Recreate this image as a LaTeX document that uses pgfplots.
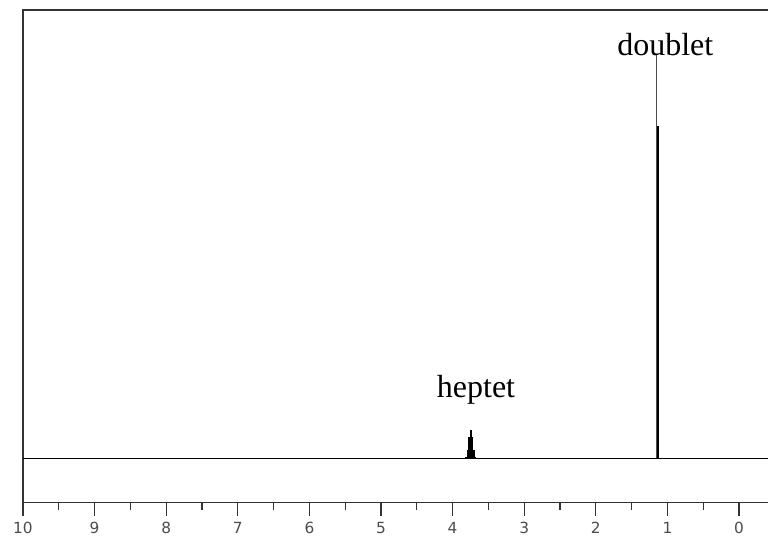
\documentclass[border=0pt]{standalone}
\usepackage{pgfplots}
\pgfplotsset{compat=1.18}
\usepackage{fontspec}
\setmainfont{Liberation Serif}
\newfontfamily\tickfont{DejaVu Sans}

\begin{document}
\begin{tikzpicture}
\useasboundingbox (0,0) rectangle (576pt,405.75pt);
\begin{axis}[
  at={(17.25pt,28.7pt)}, anchor=south west,
  width=558.75pt, height=369.5pt, scale only axis,
  x dir=reverse, xmin=-0.405, xmax=10,
  ymin=-11, ymax=111.16,
  axis line style={draw=none},
  clip=false,
  xtick={0,...,10}, minor xtick={0.5,1.5,...,9.5},
  xtick pos=bottom, ytick=\empty,
  tick align=outside, major tick length=9.75pt, minor tick length=5.25pt,
  every tick/.style={black!80, line width=0.8pt},
  xticklabel style={font=\tickfont\fontsize{11.5}{12}\selectfont, text=black!70, yshift=-1.5pt},
  /pgf/number format/assume math mode=true,
]
% frame: top, left, bottom (no right line)
\draw[black!80, line width=0.9pt] (axis cs:-0.405,111.16) -- (axis cs:10,111.16)
  -- (axis cs:10,-11) -- (axis cs:-0.405,-11);

% baseline
\addplot[black, line width=0.9pt] coordinates {(10,0) (-0.405,0)};

% heptet
\addplot[ycomb, black, line width=1.4pt] coordinates {
  (3.807,0.35) (3.787,2.1) (3.767,5.25) (3.747,7)
  (3.727,5.25) (3.707,2.1) (3.687,0.35)};

% doublet
\addplot[ycomb, black!70, line width=0.7pt] coordinates {(1.147,100)};
\addplot[ycomb, black, line width=1.4pt] coordinates {(1.135,82.4)};

\node[anchor=base, font=\fontsize{24}{28}\selectfont] at (axis cs:1.03,100) {doublet};
\node[anchor=base, font=\fontsize{24}{28}\selectfont] at (axis cs:3.673,15.1) {heptet};
\end{axis}
\end{tikzpicture}
\end{document}
